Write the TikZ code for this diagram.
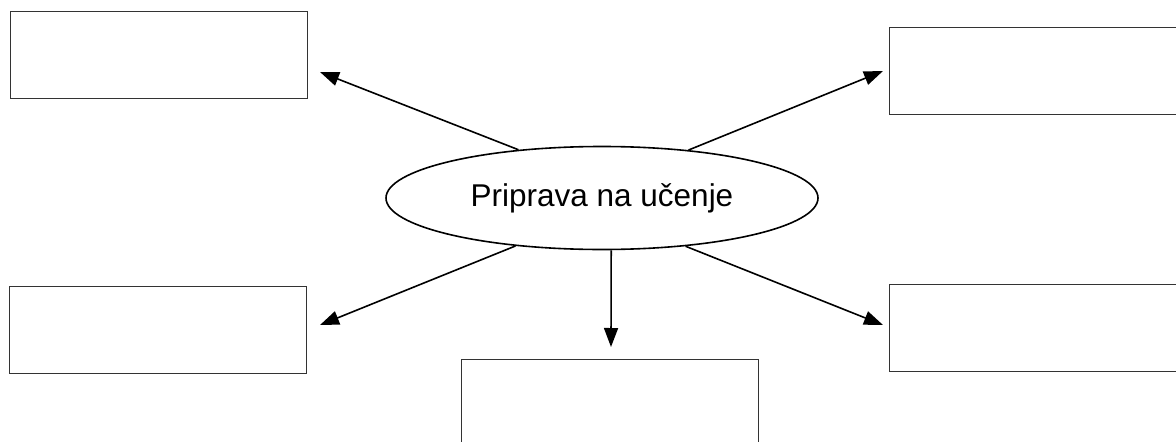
\documentclass[tikz,border=0pt]{standalone}
\usepackage{fontspec}
\setmainfont{Liberation Sans}
\usetikzlibrary{arrows.meta,shapes.geometric}
\tikzset{
	okvir/.style={draw=black!80, line width=1pt, minimum width=297pt, minimum height=87pt, inner sep=0pt},
	jedro/.style={ellipse, draw, line width=1.6pt, minimum width=432pt, minimum height=103pt, inner sep=0pt, font=\fontsize{31.5}{37}\selectfont},
	puscica/.style={line width=1.6pt, -{Triangle[length=19pt, width=14pt]}}
}

\begin{document}
\begin{tikzpicture}[x=1pt, y=-1pt]
		%%%%% START %%%%%
		
		\useasboundingbox (0, 0) rectangle (1176, 442);
		\clip (0, 0) rectangle (1176, 442);
		
		\node[jedro] (priprava) at (602, 198) {Priprava na učenje};
		
		\node[okvir] (zl) at (158.5, 54.5) {};
		\node[okvir] (sl) at (158, 329.5) {};
		\node[okvir] (ss) at (609.5, 402.5) {};
		\node[okvir] (zd) at (1037.5, 70.7) {};
		\node[okvir] (sd) at (1037.5, 327.7) {};
		
		\coordinate (konZL) at (320, 72);
		\coordinate (konSL) at (320, 325);
		\coordinate (konSS) at (611, 347);
		\coordinate (konZD) at (883, 71);
		\coordinate (konSD) at (883, 325);
		
		\draw[puscica] (priprava.150.8) -- (konZL);
		\draw[puscica] (priprava.209.2) -- (konSL);
		\draw[puscica] (priprava.-80) -- (konSS);
		\draw[puscica] (priprava.29.5) -- (konZD);
		\draw[puscica] (priprava.330.5) -- (konSD);
		
		%%%%% END %%%%%
\end{tikzpicture}
\end{document}
